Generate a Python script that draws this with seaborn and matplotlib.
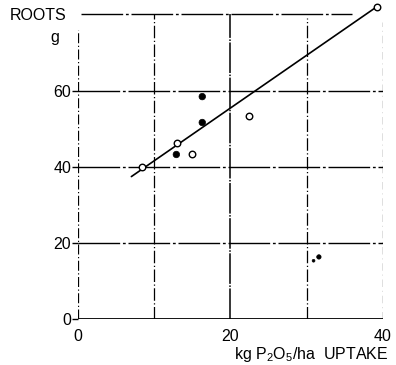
import matplotlib
matplotlib.use("Agg")
import matplotlib.pyplot as plt
import seaborn as sns
import pandas as pd

sns.set_theme(style="white")
plt.rcParams['font.family'] = ['Liberation Sans', 'DejaVu Sans']
plt.rcParams['mathtext.default'] = 'regular'

# data
open_x = [8.4, 13.0, 15.0, 22.4, 39.2]
open_y = [40.0, 46.3, 43.4, 53.2, 82.0]
filled_x = [12.9, 16.3, 16.3, 31.6, 30.9]
filled_y = [43.2, 51.6, 58.4, 16.3, 15.3]
line_x = [7.0, 39.2]
line_y = [37.4, 82.0]
x_ticks = [0, 20, 40]
y_ticks = [0, 20, 40, 60]

fig = plt.figure(figsize=(3.96, 3.65), dpi=100)
ax = fig.add_axes([0.197, 0.126, 0.770, 0.866])
ax.set_xlim(0, 40)
ax.set_ylim(0, 83)
for s in ax.spines.values():
    s.set_visible(False)

# grid / frame lines
ax.axhline(0, color='black', lw=1.3)
for yv in [20, 40, 60]:
    ax.axhline(yv, color='black', lw=1.0, ls=(0, (30, 2, 2, 2)))
ax.plot([0.4, 36.0], [80, 80], color='black', lw=1.0, ls=(0, (30, 2, 2, 2)))
ax.axvline(0, ymax=76/83, color='black', lw=0.9, ls=(0, (8, 2, 1, 2)))
ax.axvline(10, ymax=80/83, color='black', lw=0.9, ls=(0, (10, 2, 1, 2)))
ax.axvline(20, ymax=80/83, color='black', lw=1.1, ls=(0, (20, 1, 1, 1)))
ax.axvline(30, ymax=79/83, color='black', lw=0.9, ls=(0, (10, 2, 1, 2)))
ax.axvline(40, ymax=78/83, color='black', lw=0.9, ls=(0, (6, 3, 1, 3)))

df_line = pd.DataFrame({'x': line_x, 'y': line_y})
sns.lineplot(data=df_line, x='x', y='y', ax=ax, color='black', lw=1.2)

df_open = pd.DataFrame({'x': open_x, 'y': open_y})
sns.scatterplot(data=df_open, x='x', y='y', ax=ax, s=22, facecolor='white',
                edgecolor='black', linewidth=1.0, zorder=5, clip_on=False)
df_f = pd.DataFrame({'x': filled_x, 'y': filled_y})
sns.scatterplot(data=df_f, x='x', y='y', ax=ax, s=[22, 22, 22, 10, 4], color='black',
                edgecolor='black', linewidth=0.5, zorder=5)

ax.set_xlabel('')
ax.set_ylabel('')
ax.set_xticks(x_ticks)
ax.set_yticks(y_ticks)
ax.tick_params(axis='y', left=True, length=4, width=1, direction='out', color='black',
               labelsize=11.5, pad=1)
ax.tick_params(axis='x', bottom=False, labelsize=11.5, pad=1)
for lab in ax.get_xticklabels() + ax.get_yticklabels():
    lab.set_color('black')

fig.text(0.025, 0.958, 'ROOTS', fontsize=11.5, color='black', va='center')
fig.text(0.128, 0.897, 'g', fontsize=11.5, color='black', va='center')
fig.text(0.98, 0.03, 'kg P$_2$O$_5$/ha  UPTAKE', fontsize=11.5, color='black',
         ha='right', va='center')

fig.savefig('out.png', dpi=100)
